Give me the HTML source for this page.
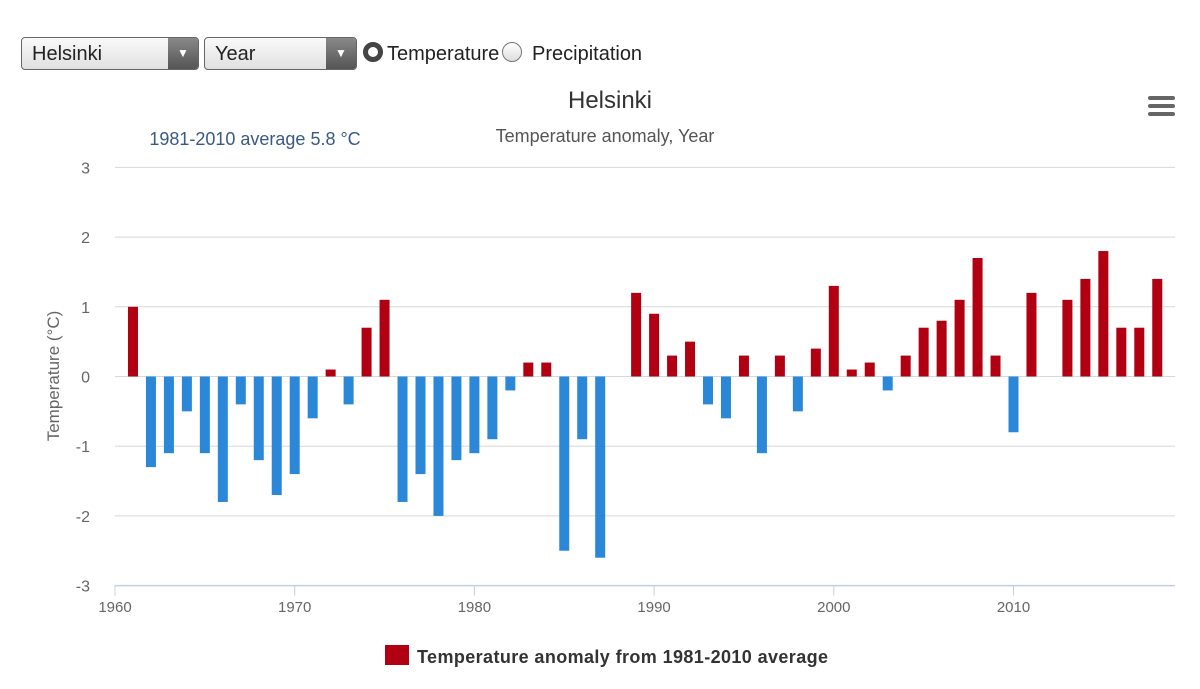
<!DOCTYPE html>
<html><head><meta charset="utf-8"><style>
body{margin:0;width:1200px;height:689px;background:#fff;font-family:"Liberation Sans",sans-serif;overflow:hidden;position:relative}
.sel{position:absolute;top:37px;height:33px;border:1px solid #666;border-radius:4px;background:linear-gradient(#fafafa,#e0e0e0);box-sizing:border-box;font-size:20px;color:#222}
.sel span{position:absolute;left:10px;top:5px}
.sel b{position:absolute;right:0;top:0;width:30px;height:31px;background:linear-gradient(#888,#555);border-radius:0 3px 3px 0;color:#fff;font-size:12px;text-align:center;line-height:31px}
.radio{position:absolute;top:42px;width:20px;height:20px;border-radius:50%;box-sizing:border-box}
.lbl{position:absolute;top:43px;font-size:20px;color:#222}
</style></head><body>
<div class="sel" style="left:21px;width:178px"><span>Helsinki</span><b>▼</b></div>
<div class="sel" style="left:204px;width:153px"><span>Year</span><b>▼</b></div>
<div class="radio" style="left:363px;border:5px solid #444;background:#fff"></div>
<div class="lbl" style="left:387px">Temperature</div>
<div class="radio" style="left:502px;border:1px solid #777;background:linear-gradient(#fff,#ddd)"></div>
<div class="lbl" style="left:532px">Precipitation</div>
<div style="position:absolute;left:1148px;top:96px;width:27px">
<div style="height:4px;background:#666;border-radius:2px;margin-bottom:4px"></div><div style="height:4px;background:#666;border-radius:2px;margin-bottom:4px"></div><div style="height:4px;background:#666;border-radius:2px"></div></div>
<svg id="chart" width="1200" height="689" style="position:absolute;left:0;top:0;pointer-events:none">
<text x="610" y="108" text-anchor="middle" font-size="24" fill="#333">Helsinki</text>
<text x="605" y="142" text-anchor="middle" font-size="18" fill="#555">Temperature anomaly, Year</text>
<text x="255" y="145" text-anchor="middle" font-size="18" fill="#3a5a85">1981-2010 average 5.8 °C</text>
<text transform="translate(59,376) rotate(-90)" text-anchor="middle" font-size="17" fill="#666">Temperature (°C)</text>
<g id="grid"></g><g id="bars"></g><g id="xaxis"></g>
<rect x="385" y="645" width="24" height="20" fill="#b00012"/>
<text x="417" y="663" font-size="18" font-weight="bold" fill="#333" textLength="411">Temperature anomaly from 1981-2010 average</text>
</svg>
<script>
const years=[1961,1962,1963,1964,1965,1966,1967,1968,1969,1970,1971,1972,1973,1974,1975,1976,1977,1978,1979,1980,1981,1982,1983,1984,1985,1986,1987,1988,1989,1990,1991,1992,1993,1994,1995,1996,1997,1998,1999,2000,2001,2002,2003,2004,2005,2006,2007,2008,2009,2010,2011,2012,2013,2014,2015,2016,2017,2018];
const anomalies=[1.0,-1.3,-1.1,-0.5,-1.1,-1.8,-0.4,-1.2,-1.7,-1.4,-0.6,0.1,-0.4,0.7,1.1,-1.8,-1.4,-2.0,-1.2,-1.1,-0.9,-0.2,0.2,0.2,-2.5,-0.9,-2.6,0,1.2,0.9,0.3,0.5,-0.4,-0.6,0.3,-1.1,0.3,-0.5,0.4,1.3,0.1,0.2,-0.2,0.3,0.7,0.8,1.1,1.7,0.3,-0.8,1.2,0,1.1,1.4,1.8,0.7,0.7,1.4];
const yTicks=[-3,-2,-1,0,1,2,3];
const xTicks=[1960,1970,1980,1990,2000,2010];
const ns="http://www.w3.org/2000/svg";
const X=y=>115+(y-1960)*17.97;
const Y=v=>376.5-v*69.7;
function mk(t,a,p){const e=document.createElementNS(ns,t);for(const k in a)e.setAttribute(k,a[k]);p.appendChild(e);return e;}
const grid=document.getElementById('grid'),bars=document.getElementById('bars'),xa=document.getElementById('xaxis');
yTicks.forEach(v=>{
 if(v>-3){const l=mk('line',{x1:115,x2:1175,y1:Y(v),y2:Y(v),stroke:'#d8d8d8','stroke-width':1},grid);
 
 }
 const t=mk('text',{x:90,y:Y(v)+6,'text-anchor':'end','font-size':16,fill:'#666'},grid);t.textContent=v;
 
 
});
mk('line',{x1:115,x2:1175,y1:Y(-3),y2:Y(-3),stroke:'#c0d0e0','stroke-width':1.5},xa);
xTicks.forEach(y=>{
 mk('line',{x1:X(y),x2:X(y),y1:Y(-3),y2:Y(-3)+10,stroke:'#c0d0e0'},xa);
 const t=mk('text',{x:X(y),y:612,'text-anchor':'middle','font-size':15,fill:'#666'},xa);t.textContent=y;
 
 
});
years.forEach((yr,i)=>{
 const v=anomalies[i];if(v===0)return;
 const y0=Y(0),y1=Y(v);
 const r=mk('rect',{x:X(yr)-5,width:10,y:Math.min(y0,y1),height:Math.abs(y1-y0),fill:v>0?'#b00012':'#2b88d8'},bars);
 
 
});
</script>
</body></html>
